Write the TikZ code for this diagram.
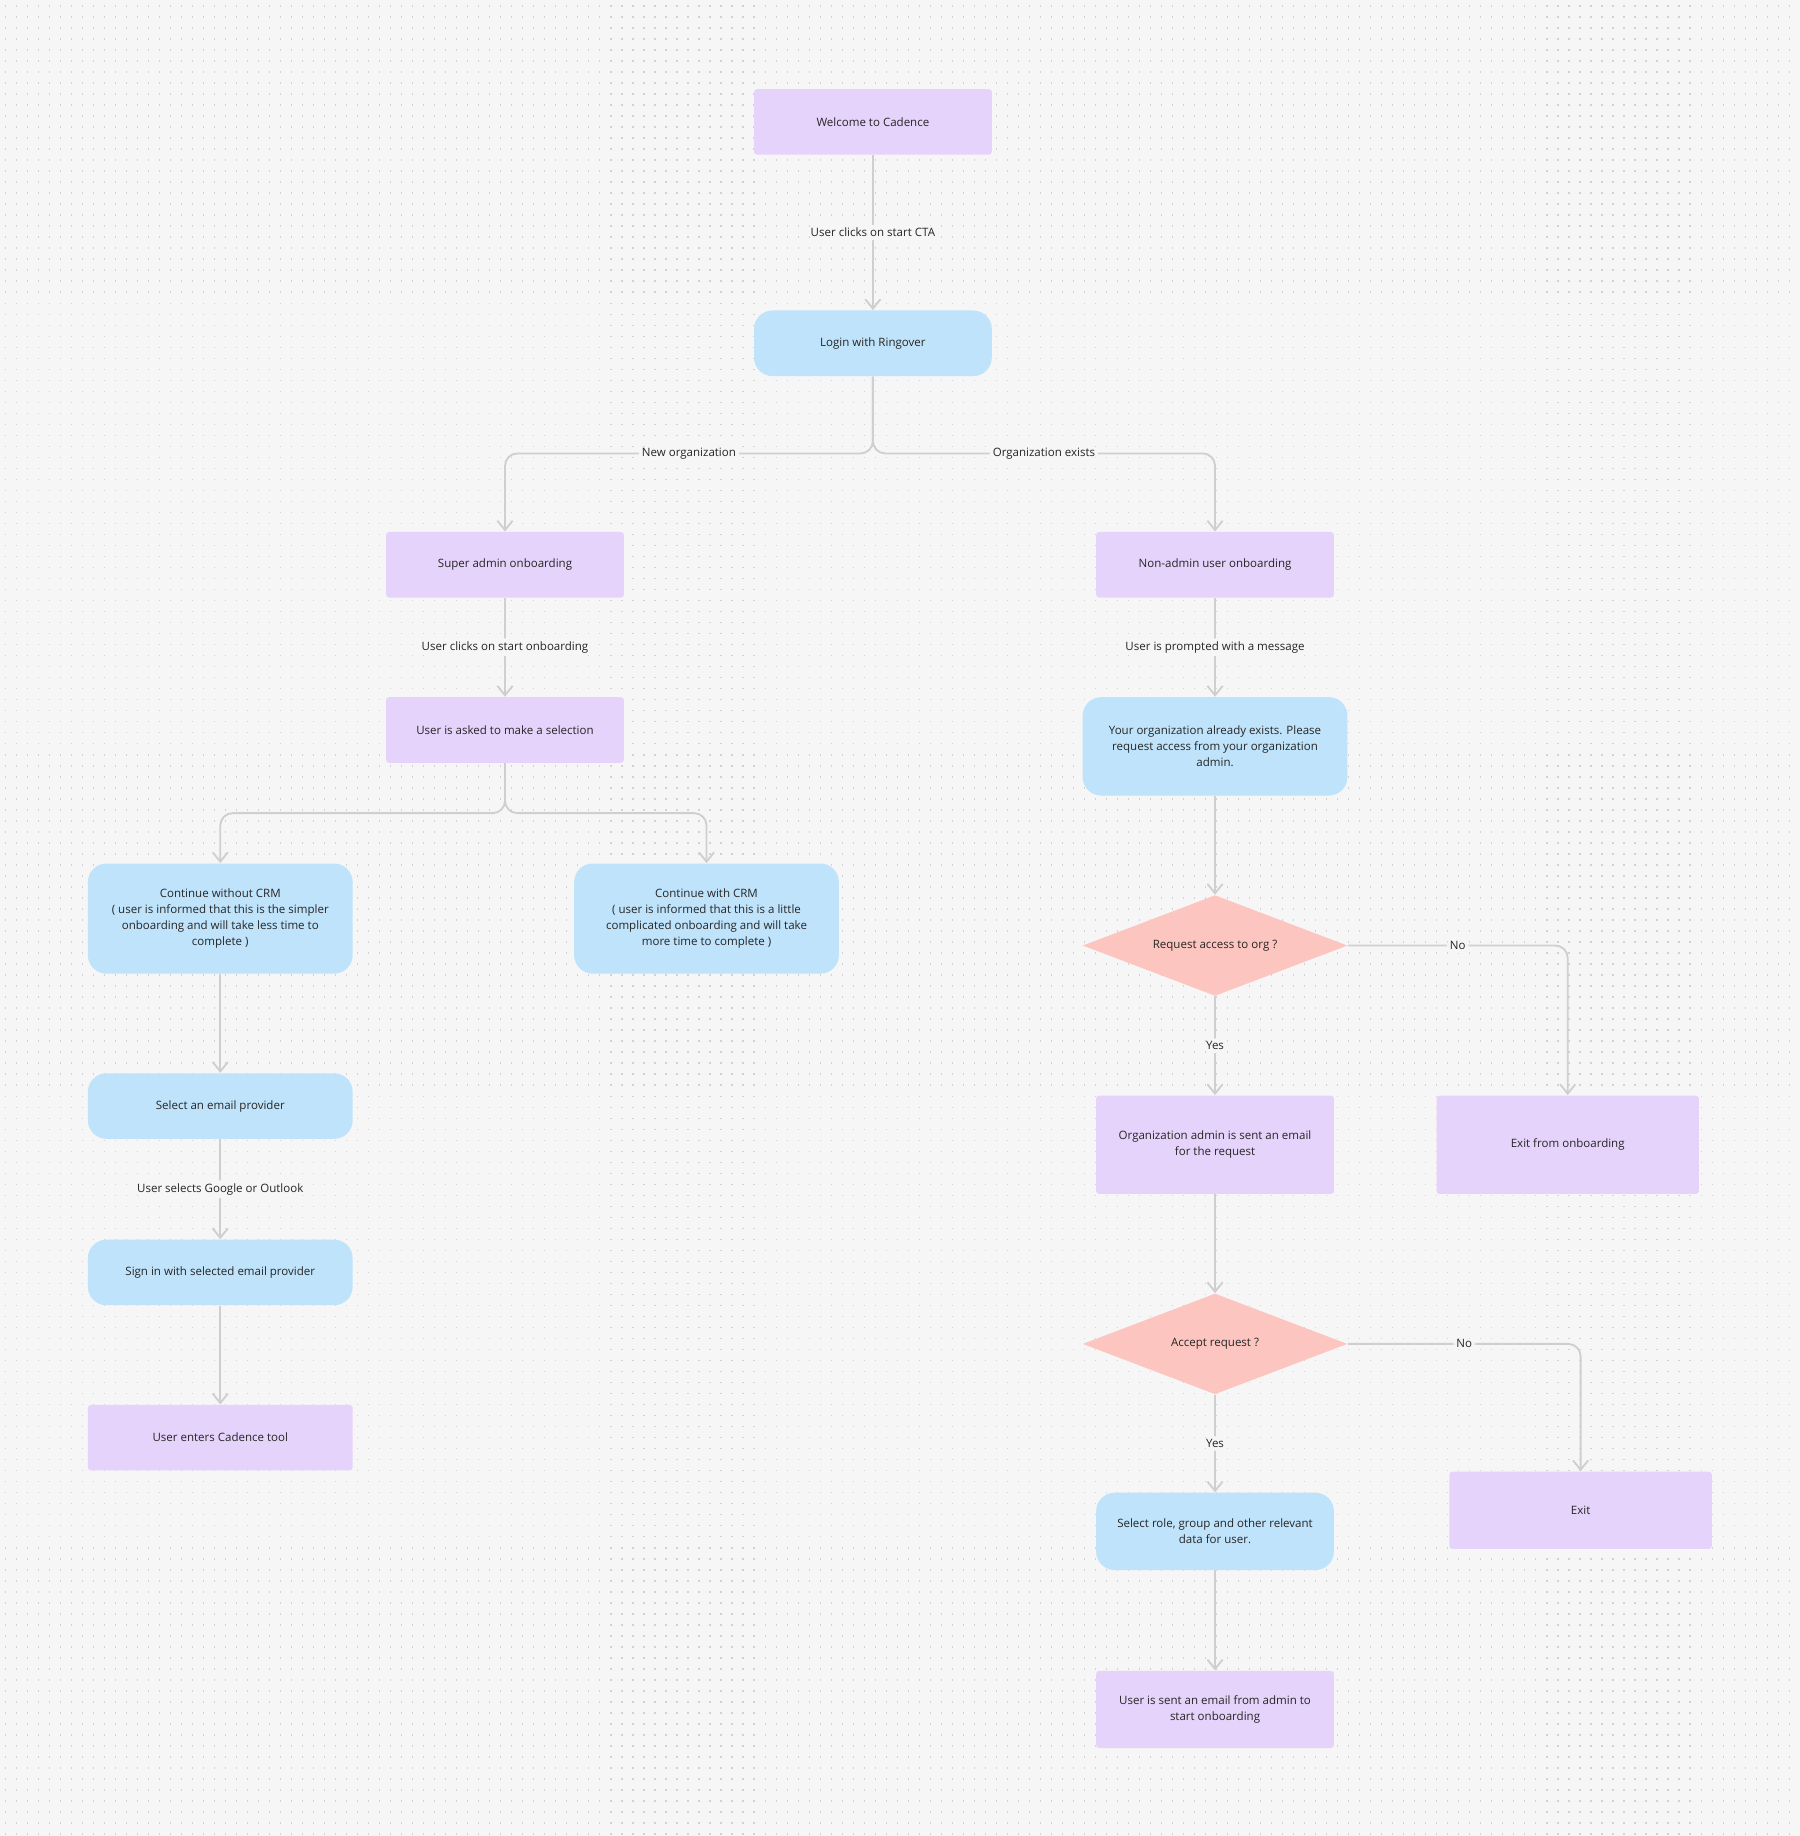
\documentclass[tikz,border=0pt]{standalone}
\usepackage{fontspec}
\setmainfont{Open Sans}
\usetikzlibrary{arrows.meta}
\usetikzlibrary{shapes.geometric}
\definecolor{bgc}{HTML}{F6F6F6}
\definecolor{dotc}{HTML}{D2D2D2}
\definecolor{lila}{HTML}{E6D3FB}
\definecolor{skyc}{HTML}{BFE3FB}
\definecolor{rosec}{HTML}{FDC5BF}
\definecolor{linec}{HTML}{CFCFCF}
\tikzset{
	box/.style={fill=lila, rounded corners=1.5pt, minimum width=#1, align=center, inner sep=0pt},
	pill/.style={fill=skyc, rounded corners=9pt, minimum width=#1, align=center, inner sep=0pt},
	choice/.style={diamond, fill=rosec, aspect=2.6, minimum width=4.52cm, minimum height=1.72cm, inner sep=0pt},
	conn/.style={linec, line width=0.9pt, rounded corners=6pt, -{Straight Barb[length=1.6mm,width=2.6mm]}},
	lbl/.style={fill=bgc, inner sep=1.5pt, text=black!85},
}
\begin{document}
\begin{tikzpicture}[x=0.02cm, y=-0.02cm, font=\fontsize{5.6}{7.8}\selectfont, text=black!85]
	% background === V
	\fill[bgc] (0,0) rectangle (1536,1567);
	\useasboundingbox (0,0) rectangle (1536,1567);
	\foreach \y in {5,14.4,...,1567}
		\draw[dotc, line width=0.7pt, dash pattern=on 0.02cm off 0.168cm] (4,\y) -- (1536,\y);
	% ==== A

	% left branch
	\node[box=4.06cm, minimum height=1.12cm] (welcome) at (745,104) {Welcome to Cadence};
	\node[pill=4.06cm, minimum height=1.12cm] (login) at (745,293) {Login with Ringover};
	\node[box=4.06cm, minimum height=1.12cm] (superadmin) at (431,482) {Super admin onboarding};
	\node[box=4.06cm, minimum height=1.12cm] (ask) at (431,623) {User is asked to make a selection};
	\node[pill=4.52cm, minimum height=1.88cm] (nocrm) at (188,784) {Continue without CRM\\( user is informed that this is the simpler\\onboarding and will take less time to\\complete )};
	\node[pill=4.52cm, minimum height=1.88cm] (withcrm) at (603,784) {Continue with CRM\\( user is informed that this is a little\\complicated onboarding and will take\\more time to complete )};
	\node[pill=4.52cm, minimum height=1.12cm] (provider) at (188,944) {Select an email provider};
	\node[pill=4.52cm, minimum height=1.12cm] (signin) at (188,1086) {Sign in with selected email provider};
	\node[box=4.52cm, minimum height=1.12cm] (enters) at (188,1227) {User enters Cadence tool};

	% right branch
	\node[box=4.06cm, minimum height=1.12cm] (nonadmin) at (1037,482) {Non-admin user onboarding};
	\node[pill=4.52cm, minimum height=1.68cm] (exists) at (1037,637) {Your organization already exists. Please\\request access from your organization\\admin.};
	\node[choice] (request) at (1037,807) {Request access to org ?};
	\node[box=4.06cm, minimum height=1.68cm] (orgadmin) at (1037,977) {Organization admin is sent an email\\for the request};
	\node[box=4.48cm, minimum height=1.68cm] (exitonb) at (1338,977) {Exit from onboarding};
	\node[choice] (accept) at (1037,1147) {Accept request ?};
	\node[pill=4.06cm, minimum height=1.32cm] (role) at (1037,1307) {Select role, group and other relevant\\data for user.};
	\node[box=4.48cm, minimum height=1.32cm] (exit) at (1349,1289) {Exit};
	\node[box=4.06cm, minimum height=1.32cm] (mailsent) at (1037,1459) {User is sent an email from admin to\\start onboarding};

	\coordinate (split) at (745,387);
	\coordinate (fork) at (431,694);

	% connectors
	\draw[conn] (welcome) -- node[lbl]{User clicks on start CTA} (login);
	\draw[conn] (login.south) -- (split) -| node[lbl, pos=0.25]{New organization} (superadmin.north);
	\draw[conn] (login.south) -- (split) -| node[lbl, pos=0.25]{Organization exists} (nonadmin.north);
	\draw[conn] (superadmin) -- node[lbl]{User clicks on start onboarding} (ask);
	\draw[conn] (ask.south) -- (fork) -| (nocrm.north);
	\draw[conn] (ask.south) -- (fork) -| (withcrm.north);
	\draw[conn] (nocrm) -- (provider);
	\draw[conn] (provider) -- node[lbl]{User selects Google or Outlook} (signin);
	\draw[conn] (signin) -- (enters);
	\draw[conn] (nonadmin) -- node[lbl]{User is prompted with a message} (exists);
	\draw[conn] (exists) -- (request);
	\draw[conn] (request) -- node[lbl]{Yes} (orgadmin);
	\draw[conn] (request.east) -| node[lbl, pos=0.25]{No} (exitonb.north);
	\draw[conn] (orgadmin) -- (accept);
	\draw[conn] (accept) -- node[lbl]{Yes} (role);
	\draw[conn] (accept.east) -| node[lbl, pos=0.25]{No} (exit.north);
	\draw[conn] (role) -- (mailsent);
\end{tikzpicture}
\end{document}
